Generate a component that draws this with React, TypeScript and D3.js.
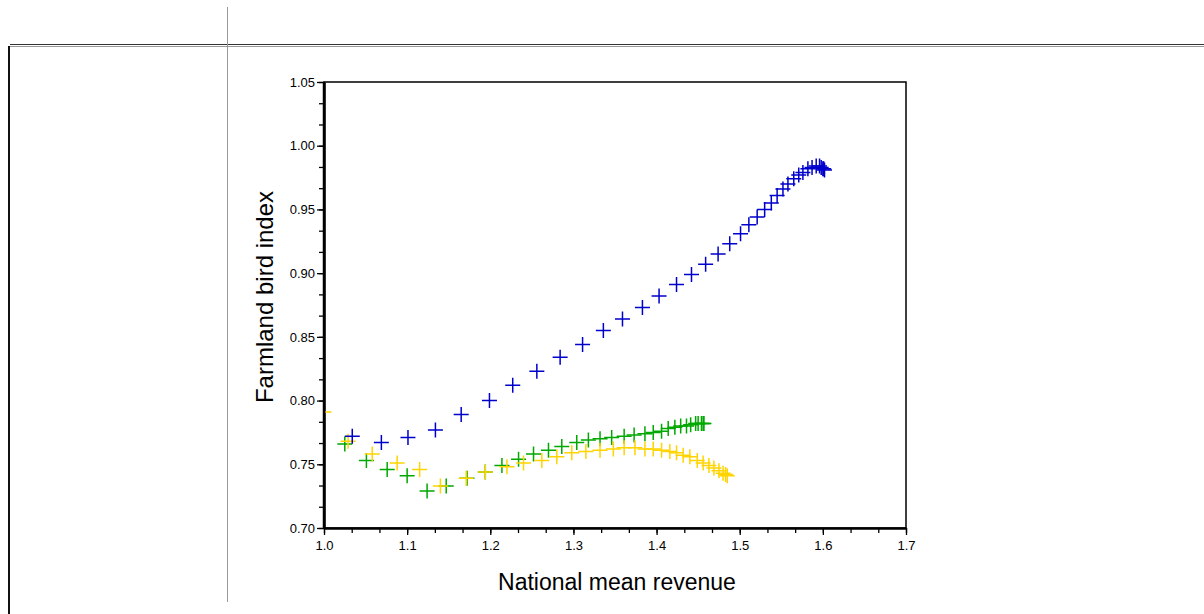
import { useEffect, useRef } from "react";
import * as d3 from "d3";

// axis ticks
const X_TICKS = [1.0, 1.1, 1.2, 1.3, 1.4, 1.5, 1.6, 1.7];
const Y_TICKS = [0.7, 0.75, 0.8, 0.85, 0.9, 0.95, 1.0, 1.05];

// series (national mean revenue, farmland bird index)
const blueX = [
  1.034, 1.069, 1.101, 1.134, 1.165, 1.199, 1.227, 1.256, 1.284, 1.311, 1.336, 1.359,
  1.383, 1.403, 1.424, 1.442, 1.459, 1.474, 1.488, 1.501, 1.511, 1.521, 1.530, 1.538,
  1.545, 1.552, 1.558, 1.565, 1.571, 1.576, 1.582, 1.587, 1.592, 1.596, 1.598, 1.600,
  1.601, 1.602,
];
const blueY = [
  0.772, 0.767, 0.771, 0.777, 0.789, 0.800, 0.812, 0.823, 0.834, 0.844, 0.855, 0.864,
  0.873, 0.882, 0.891, 0.899, 0.907, 0.915, 0.923, 0.931, 0.938, 0.944, 0.950, 0.955,
  0.961, 0.966, 0.970, 0.974, 0.977, 0.979, 0.982, 0.983, 0.984, 0.984, 0.983, 0.982,
  0.982, 0.981,
];

const greenX = [
  1.025, 1.051, 1.076, 1.100, 1.124, 1.147, 1.172, 1.194, 1.214, 1.234, 1.252, 1.270,
  1.286, 1.304, 1.318, 1.332, 1.346, 1.361, 1.373, 1.386, 1.396, 1.406, 1.414, 1.422,
  1.429, 1.436, 1.441, 1.447, 1.450, 1.454, 1.456, 1.457,
];
const greenY = [
  0.766, 0.753, 0.746, 0.741, 0.729, 0.733, 0.739, 0.744, 0.749, 0.754, 0.758, 0.761,
  0.764, 0.767, 0.769, 0.770, 0.771, 0.772, 0.773, 0.774, 0.775, 0.776, 0.778, 0.779,
  0.780, 0.780, 0.781, 0.782, 0.782, 0.782, 0.782, 0.782,
];

const yellowX = [
  1.0, 1.029, 1.058, 1.088, 1.115, 1.140, 1.171, 1.194, 1.220, 1.240, 1.262, 1.280,
  1.298, 1.315, 1.332, 1.348, 1.361, 1.374, 1.386, 1.396, 1.406, 1.416, 1.424, 1.432,
  1.440, 1.449, 1.456, 1.463, 1.469, 1.475, 1.480, 1.483, 1.485,
];
const yellowY = [
  0.791, 0.768, 0.758, 0.751, 0.746, 0.733, 0.739, 0.744, 0.748, 0.751, 0.753, 0.756,
  0.759, 0.760, 0.761, 0.762, 0.763, 0.763, 0.762, 0.762, 0.761, 0.760, 0.759, 0.757,
  0.756, 0.753, 0.751, 0.749, 0.747, 0.745, 0.743, 0.742, 0.741,
];

const SERIES = [
  { name: "green", xs: greenX, ys: greenY, color: "#00a800" },
  { name: "yellow", xs: yellowX, ys: yellowY, color: "#ffd400" },
  { name: "blue", xs: blueX, ys: blueY, color: "#0000cc" },
];

const FONT = "'Liberation Sans', Arial, sans-serif";

export default function App() {
  const ref = useRef<SVGSVGElement | null>(null);

  useEffect(() => {
    const svg = d3.select(ref.current);
    svg.selectAll("*").remove();

    const width = 1204;
    const height = 614;
    const left = 324;
    const right = 906;
    const top = 82;
    const bottom = 528;

    svg.attr("width", width).attr("height", height).attr("viewBox", `0 0 ${width} ${height}`);

    // page furniture around the figure
    svg.append("line").attr("x1", 10).attr("x2", width).attr("y1", 44.5).attr("y2", 44.5)
      .attr("stroke", "#333").attr("stroke-width", 1.2);
    svg.append("line").attr("x1", 10).attr("x2", width).attr("y1", 46.5).attr("y2", 46.5)
      .attr("stroke", "#999").attr("stroke-width", 1);
    svg.append("line").attr("x1", 9).attr("x2", 9).attr("y1", 46).attr("y2", height)
      .attr("stroke", "#111").attr("stroke-width", 2);
    svg.append("line").attr("x1", 227.5).attr("x2", 227.5).attr("y1", 7).attr("y2", 602)
      .attr("stroke", "#999").attr("stroke-width", 1);

    const x = d3.scaleLinear().domain([1.0, 1.7]).range([left, right]);
    const y = d3.scaleLinear().domain([0.7, 1.05]).range([bottom, top]);

    // frame
    svg.append("rect").attr("x", left).attr("y", top)
      .attr("width", right - left).attr("height", bottom - top)
      .attr("fill", "none").attr("stroke", "#000").attr("stroke-width", 1.5);

    const xMinor = d3.range(0, 22).map((i) => 1.0 + (i * 0.1) / 3);
    const yMinor = d3.range(0, 22).map((i) => 0.7 + (i * 0.05) / 3);

    const xAxis = svg.append("g").attr("transform", `translate(0,${bottom})`);
    xAxis.append("g")
      .call(d3.axisBottom(x).tickValues(xMinor).tickSize(5).tickFormat(() => ""))
      .call((g) => g.select(".domain").remove());
    xAxis.append("g")
      .call(d3.axisBottom(x).tickValues(X_TICKS).tickSize(7).tickSizeOuter(0).tickFormat(d3.format(".1f")))
      .attr("font-size", null)
      .call((g) => g.select(".domain").attr("stroke-width", 2.5));

    const yAxis = svg.append("g").attr("transform", `translate(${left},0)`);
    yAxis.append("g")
      .call(d3.axisLeft(y).tickValues(yMinor).tickSize(5).tickFormat(() => ""))
      .call((g) => g.select(".domain").remove());
    yAxis.append("g")
      .call(d3.axisLeft(y).tickValues(Y_TICKS).tickSize(7).tickSizeOuter(0).tickFormat(d3.format(".2f")))
      .attr("font-size", null)
      .call((g) => g.select(".domain").attr("stroke-width", 2.5));

    svg.selectAll(".tick line").attr("stroke", "#000").attr("stroke-width", 1.3);
    svg.selectAll(".tick text")
      .style("font-family", FONT)
      .style("font-size", "13px")
      .attr("fill", "#000");
    xAxis.selectAll(".tick text").attr("y", 13).attr("dy", "0.71em");
    yAxis.selectAll(".tick text").attr("x", -9);

    svg.append("text")
      .attr("x", (left + right) / 2 + 2).attr("y", 590)
      .attr("text-anchor", "middle").attr("font-family", FONT).attr("font-size", 23)
      .text("National mean revenue");
    svg.append("text")
      .attr("transform", `translate(273,297) rotate(-90)`)
      .attr("text-anchor", "middle").attr("font-family", FONT).attr("font-size", 24)
      .text("Farmland bird index");

    svg.append("clipPath").attr("id", "plot-clip")
      .append("rect").attr("x", left).attr("y", top)
      .attr("width", right - left).attr("height", bottom - top);

    const marks = svg.append("g").attr("clip-path", "url(#plot-clip)");
    const arm = 7.5;
    SERIES.forEach((s) => {
      marks.append("g")
        .selectAll("path")
        .data(s.xs.map((v, i) => [v, s.ys[i]] as [number, number]))
        .enter()
        .append("path")
        .attr("d", `M${-arm},0H${arm}M0,${-arm}V${arm}`)
        .attr("transform", (d) => `translate(${x(d[0])},${y(d[1])})`)
        .attr("stroke", s.color)
        .attr("stroke-width", 1.5)
        .attr("fill", "none");
    });

    // redraw the left axis line over the clipped marks
    svg.append("line").attr("x1", left).attr("x2", left).attr("y1", top).attr("y2", bottom)
      .attr("stroke", "#000").attr("stroke-width", 2.5);
  }, []);

  return (
    <div style={{ position: "absolute", left: 0, top: 0, background: "#fff" }}>
      <svg ref={ref} style={{ display: "block" }} />
    </div>
  );
}
